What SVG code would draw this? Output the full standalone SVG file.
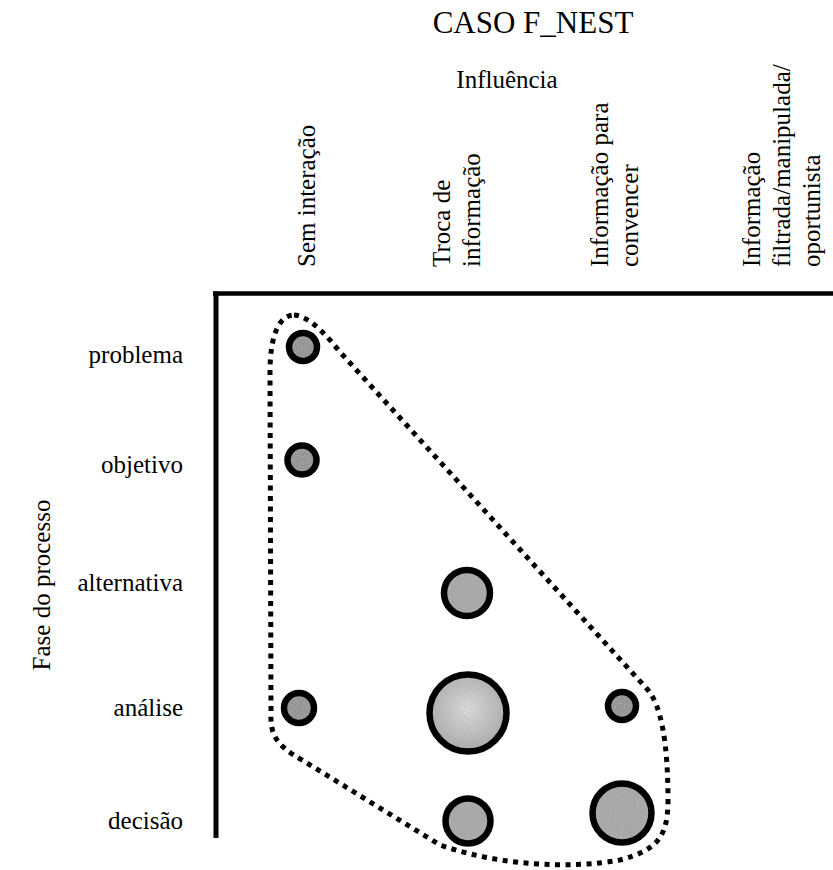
<svg xmlns="http://www.w3.org/2000/svg" width="833" height="870" viewBox="0 0 833 870">
  <style>
    text { font-family: "Liberation Serif", "Times New Roman", serif; fill: #000; }
    .title { font-size: 31px; }
    .lbl { font-size: 25px; }
    .row { font-size: 25px; text-anchor: end; }
    .axis { stroke: #000; stroke-linecap: butt; fill: none; }
    .ring { fill: none; stroke: #000; stroke-width: 6.5; }
    .dark { fill: #8e8e8e; }
    .mid { fill: #a6a6a6; }
    .light { fill: url(#pale); }
    .hull { fill: none; stroke: #000; stroke-width: 5; stroke-dasharray: 5 5.5; }
  </style>
  <defs>
    <!-- speckled grey texture for the bubble fills -->
    <filter id="grain" x="-5%" y="-5%" width="110%" height="110%">
      <feTurbulence type="fractalNoise" baseFrequency="0.85" numOctaves="2" seed="3" result="noise"/>
      <feColorMatrix in="noise" type="matrix" values="0 0 0 0 0.45  0 0 0 0 0.45  0 0 0 0 0.45  0 0 0 1.3 -0.4" result="speck"/>
      <feComposite in="speck" in2="SourceGraphic" operator="in" result="clipped"/>
      <feMerge>
        <feMergeNode in="SourceGraphic"/>
        <feMergeNode in="clipped"/>
      </feMerge>
    </filter>
    <radialGradient id="pale" cx="0.5" cy="0.45" r="0.55">
      <stop offset="0" stop-color="#e2e2e2"/>
      <stop offset="1" stop-color="#a8a8a8"/>
    </radialGradient>
  </defs>

  <rect width="833" height="870" fill="#fff"/>

  <!-- headings -->
  <text class="title" x="533" y="33" text-anchor="middle">CASO F_NEST</text>
  <text class="lbl" x="507" y="88" text-anchor="middle">Influência</text>

  <!-- column labels (read bottom to top) -->
  <g id="col-sem-interacao">
    <text class="lbl" transform="translate(315,267) rotate(-90)">Sem interação</text>
  </g>
  <g id="col-troca">
    <text class="lbl" transform="translate(450,267) rotate(-90)">Troca de</text>
    <text class="lbl" transform="translate(480,267) rotate(-90)">informação</text>
  </g>
  <g id="col-convencer">
    <text class="lbl" transform="translate(608,267) rotate(-90)">Informação para</text>
    <text class="lbl" transform="translate(638,267) rotate(-90)">convencer</text>
  </g>
  <g id="col-filtrada">
    <text class="lbl" transform="translate(760,267) rotate(-90)">Informação</text>
    <text class="lbl" transform="translate(790,267) rotate(-90)">filtrada/manipulada/</text>
    <text class="lbl" transform="translate(820,267) rotate(-90)">oportunista</text>
  </g>

  <!-- row labels -->
  <g id="rows">
    <text class="row" x="183" y="363">problema</text>
    <text class="row" x="183" y="473">objetivo</text>
    <text class="row" x="183" y="591">alternativa</text>
    <text class="row" x="183" y="716">análise</text>
    <text class="row" x="183" y="829">decisão</text>
  </g>
  <text class="lbl" text-anchor="middle" transform="translate(50,585) rotate(-90)">Fase do processo</text>

  <!-- axes -->
  <g id="axes">
    <line class="axis" x1="213" y1="293.5" x2="833" y2="293.5" stroke-width="4.5"/>
    <line class="axis" x1="216" y1="291.5" x2="216" y2="838" stroke-width="5"/>
  </g>

  <!-- dotted envelope around the occupied cells -->
  <g id="connectors">
    <path class="hull" d="M 294 315 C 306 316 320 327 340 352 L 648 690 C 661 706 668 742 668 800 C 668 836 658 850 620 860 C 572 869 500 866 440 845 L 302 760 C 276 745 270 735 271 712 L 270 372 C 270 336 279 315 294 315 Z"/>
  </g>

  <!-- bubbles: textured fill under a heavy black ring -->
  <g id="b-problema-sem">
    <circle class="dark" cx="303" cy="347" r="14" filter="url(#grain)"/>
    <circle class="ring" cx="303" cy="347" r="14"/>
  </g>
  <g id="b-objetivo-sem">
    <circle class="dark" cx="302" cy="460" r="14.5" filter="url(#grain)"/>
    <circle class="ring" cx="302" cy="460" r="14.5"/>
  </g>
  <g id="b-alternativa-troca">
    <circle class="mid" cx="467" cy="593" r="23" filter="url(#grain)"/>
    <circle class="ring" cx="467" cy="593" r="23"/>
  </g>
  <g id="b-analise-sem">
    <circle class="dark" cx="299" cy="708" r="15" filter="url(#grain)"/>
    <circle class="ring" cx="299" cy="708" r="15"/>
  </g>
  <g id="b-analise-troca">
    <circle class="light" cx="468" cy="713" r="38.5" filter="url(#grain)"/>
    <circle class="ring" cx="468" cy="713" r="38.5"/>
  </g>
  <g id="b-analise-convencer">
    <circle class="dark" cx="622" cy="706" r="14" filter="url(#grain)"/>
    <circle class="ring" cx="622" cy="706" r="14"/>
  </g>
  <g id="b-decisao-troca">
    <circle class="mid" cx="468" cy="821" r="22.5" filter="url(#grain)"/>
    <circle class="ring" cx="468" cy="821" r="22.5"/>
  </g>
  <g id="b-decisao-convencer">
    <circle class="mid" cx="622" cy="813" r="29.5" filter="url(#grain)"/>
    <circle class="ring" cx="622" cy="813" r="29.5"/>
  </g>
</svg>
